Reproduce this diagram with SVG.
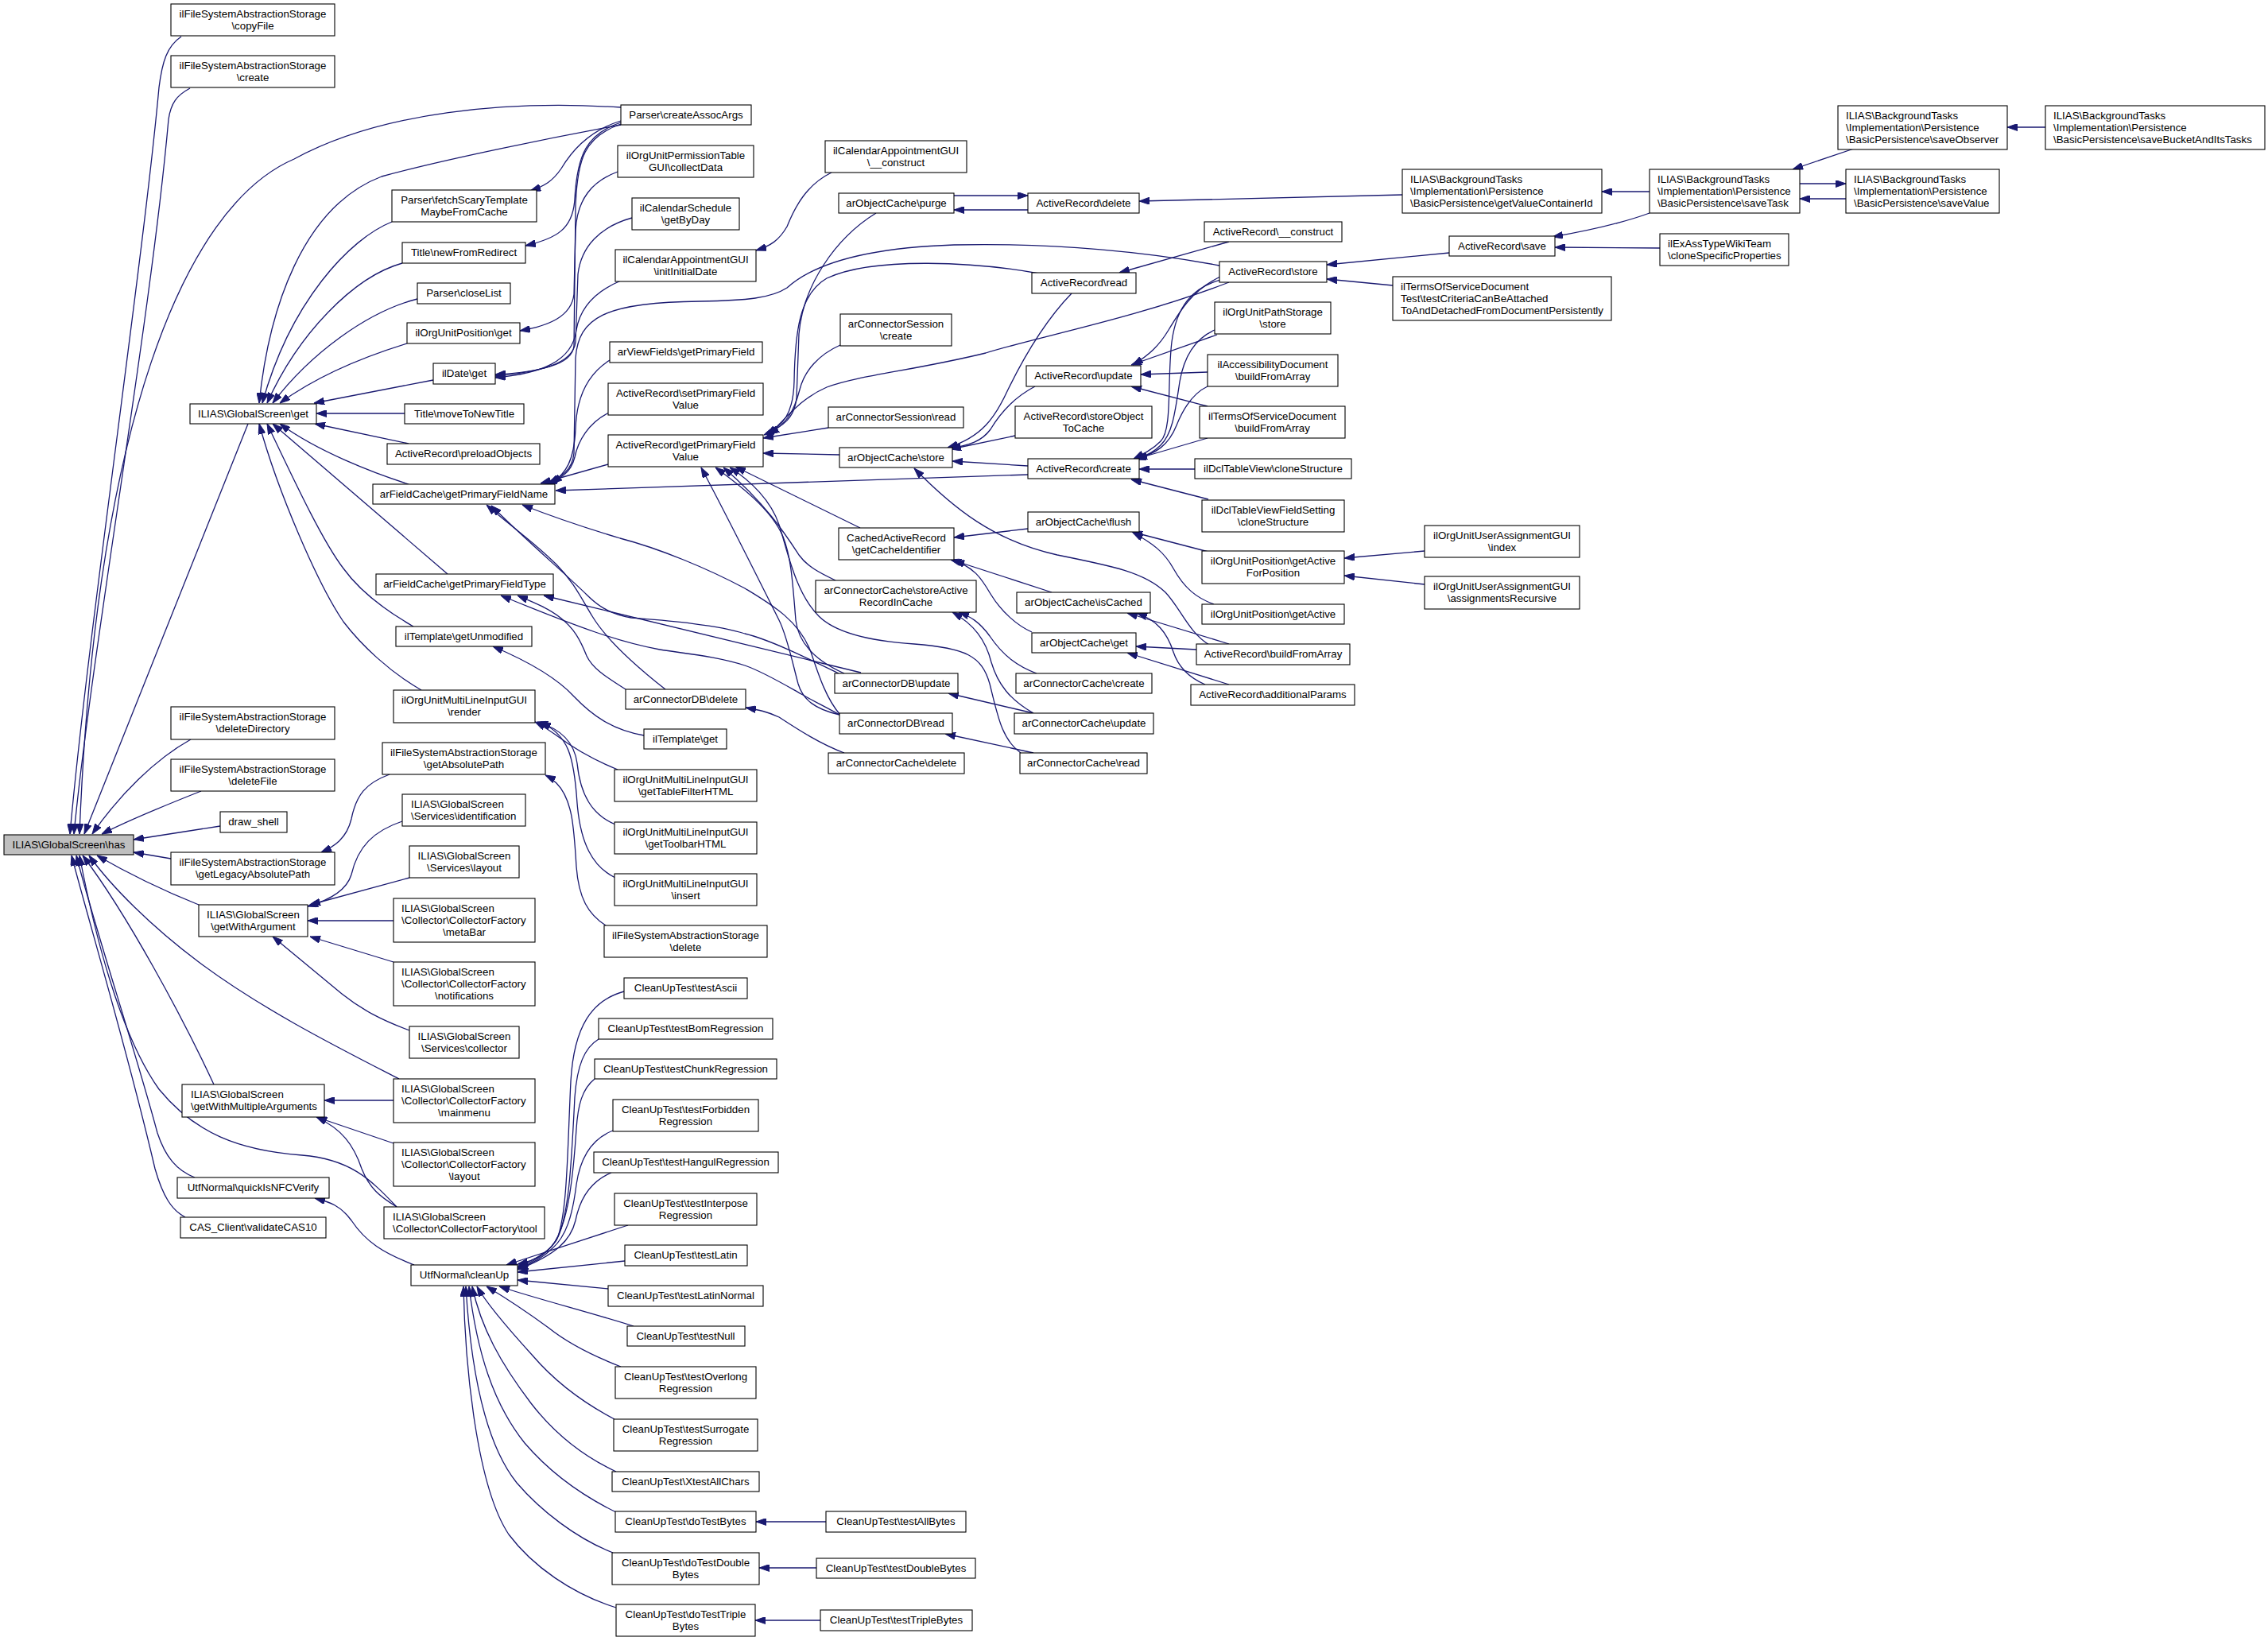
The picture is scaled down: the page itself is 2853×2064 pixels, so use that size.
<svg xmlns="http://www.w3.org/2000/svg" width="2853" height="2064" viewBox="0 0 2853 2064">
<style>
.node rect{fill:#ffffff;stroke:#000000;stroke-width:1.1}
.root rect{fill:#bfbfbf}
text{font-family:"Liberation Sans",Arial,Helvetica,sans-serif;font-size:13.3px;fill:#000000}
.c{text-anchor:middle}
.l{text-anchor:start}
#edges path{fill:none;stroke:#191970;stroke-width:1.3;marker-end:url(#ah)}
</style>
<defs>
<marker id="ah" viewBox="0 0 13 9" refX="13" refY="4.5" markerWidth="13" markerHeight="9" markerUnits="userSpaceOnUse" orient="auto">
<path d="M0,0 L13,4.5 L0,9 z" fill="#191970" stroke="#191970" stroke-width="1"/>
</marker>
</defs>
<rect x="0" y="0" width="2853" height="2064" fill="#ffffff"/>
<g id="edges">
<path d="M228,46 C210,58 204,78 200,110 C180,330 110,800 88,1049"/>
<path d="M239,111 C222,120 215,130 212,150 C190,400 115,820 93,1049"/>
<path d="M781,135 C640,126 480,140 370,200 C230,260 120,540 100,1049"/>
<path d="M312,533 L106,1049"/>
<path d="M240,930 C195,955 150,1000 116,1049"/>
<path d="M253,995 C210,1012 165,1030 128,1049"/>
<path d="M277,1039 L168,1056"/>
<path d="M215,1080 L168,1072"/>
<path d="M250,1138 C210,1122 160,1098 122,1076"/>
<path d="M502,1357 C430,1320 330,1270 250,1210 C190,1165 140,1115 112,1076"/>
<path d="M269,1364 C230,1280 160,1150 104,1076"/>
<path d="M245,1481 C222,1472 208,1455 198,1425 C170,1320 120,1170 96,1076"/>
<path d="M233,1531 C216,1522 205,1505 195,1470 C160,1320 112,1160 90,1076"/>
<path d="M499,1518 C465,1482 440,1458 380,1453 C300,1447 245,1425 200,1370 C150,1300 118,1170 100,1076"/>
<path d="M781,157 C700,172 560,200 480,222 C380,260 338,390 326,507"/>
<path d="M493,279 C440,300 365,380 330,507"/>
<path d="M506,331 C445,348 375,420 336,507"/>
<path d="M525,376 C462,392 390,445 343,507"/>
<path d="M512,432 C460,448 400,472 352,507"/>
<path d="M545,478 L395,507"/>
<path d="M509,520 L398,520"/>
<path d="M514,558 L396,533"/>
<path d="M514,609 C470,595 400,568 352,533"/>
<path d="M563,722 L343,533"/>
<path d="M520,788 C480,765 450,740 432,715 C405,680 368,600 336,533"/>
<path d="M530,868 C490,845 455,812 432,782 C400,735 350,620 326,533"/>
<path d="M781,152 C745,163 722,185 706,212 C695,228 685,234 667,240"/>
<path d="M781,154 C738,168 726,195 723,250 C721,288 700,300 661,309"/>
<path d="M781,156 C735,172 726,200 724,260 L722,435 C720,460 675,468 623,471"/>
<path d="M777,216 C745,228 726,250 724,290 L722,370 C719,398 690,410 654,416"/>
<path d="M795,274 C755,285 731,310 727,345 L724,430 C721,458 678,468 623,473"/>
<path d="M781,353 C750,366 730,385 725,415 C720,455 680,470 623,475"/>
<path d="M1046,217 C1015,232 1000,260 990,285 C980,302 970,309 951,315"/>
<path d="M767,453 C740,470 725,500 724,540 C722,580 712,595 694,608"/>
<path d="M766,519 C740,532 727,555 723,575 C718,595 705,602 688,609"/>
<path d="M765,584 L680,608"/>
<path d="M1534,334 C1450,318 1330,305 1200,308 C1080,312 1020,335 990,362 C970,375 940,378 880,379 C760,380 728,400 724,450 L722,570 C720,592 705,600 690,608"/>
<path d="M1293,597 L699,617"/>
<path d="M837,867 C790,830 760,800 745,775 C730,750 720,730 700,710 C670,680 640,660 612,635"/>
<path d="M1055,847 C1020,830 970,805 937,797 C900,785 830,780 794,777 C765,772 750,760 738,748 C715,725 660,678 618,636"/>
<path d="M1057,899 C1040,880 1030,850 1020,820 C1005,780 970,760 937,740 C890,715 830,690 780,677 C730,662 690,648 657,635"/>
<path d="M787,867 C760,850 745,840 738,825 C730,805 722,790 705,777 C690,765 670,757 651,749"/>
<path d="M1083,846 L684,749"/>
<path d="M1058,900 C1040,890 1020,880 1008,873 C985,860 960,845 937,837 C900,825 860,822 830,817 C780,808 730,790 630,749"/>
<path d="M1102,268 C1050,300 1010,360 1005,420 L1002,500 C1000,525 985,537 963,545"/>
<path d="M1307,344 C1230,330 1100,322 1040,350 C1005,370 1000,420 999,480 C998,520 985,537 961,547"/>
<path d="M1057,434 C1030,446 1012,466 1006,490 C999,517 990,533 967,546"/>
<path d="M1546,355 C1430,400 1300,425 1240,444 C1150,466 1080,472 1040,487 C1005,502 988,528 965,548"/>
<path d="M1042,538 L960,551"/>
<path d="M1056,572 L960,570"/>
<path d="M1082,664 L925,587"/>
<path d="M1051,730 C1030,720 1015,712 1005,698 C990,675 965,635 910,588"/>
<path d="M1062,847 C1035,835 1005,815 1001,780 C997,730 995,700 985,675 C970,640 930,610 900,588"/>
<path d="M1056,899 C1025,892 1010,880 1004,860 C996,830 990,800 980,780 C955,730 915,650 882,588"/>
<path d="M1284,947 C1260,930 1255,900 1245,860 C1235,825 1215,815 1150,810 C1090,806 1050,795 1030,775 C1000,745 990,690 980,660 C970,630 945,605 918,588"/>
<path d="M1348,369 C1318,400 1290,445 1268,490 C1252,525 1235,550 1192,563"/>
<path d="M1302,486 C1275,500 1258,520 1246,540 C1235,555 1220,560 1194,564"/>
<path d="M1277,548 L1196,565"/>
<path d="M1293,586 L1198,580"/>
<path d="M1521,811 C1495,795 1485,765 1466,745 C1440,720 1400,712 1330,698 C1250,680 1200,640 1150,589"/>
<path d="M1200,246 L1293,246"/>
<path d="M1293,264 L1200,264"/>
<path d="M1764,245 L1433,253"/>
<path d="M1546,304 L1408,343"/>
<path d="M1823,318 L1669,333"/>
<path d="M1752,359 L1669,351"/>
<path d="M2075,268 C2045,279 2010,288 1953,298"/>
<path d="M2088,312 L1956,311"/>
<path d="M2573,160 L2525,160"/>
<path d="M2332,187 L2255,213"/>
<path d="M2264,231 L2322,231"/>
<path d="M2322,250 L2264,250"/>
<path d="M2075,241 L2015,241"/>
<path d="M1535,348 C1500,365 1485,390 1470,415 C1458,435 1445,447 1425,459"/>
<path d="M1531,421 L1423,459"/>
<path d="M1519,468 L1435,471"/>
<path d="M1519,511 L1423,486"/>
<path d="M1535,352 C1500,362 1480,385 1474,430 C1468,480 1475,540 1460,555 C1450,565 1440,570 1426,577"/>
<path d="M1528,415 C1505,425 1490,445 1484,480 C1478,520 1475,545 1460,560 C1450,570 1440,574 1430,577"/>
<path d="M1519,486 C1500,495 1488,515 1480,535 C1470,560 1455,570 1428,578"/>
<path d="M1519,551 L1430,577"/>
<path d="M1503,590 L1433,590"/>
<path d="M1520,628 L1423,603"/>
<path d="M1293,665 L1200,676"/>
<path d="M1520,694 L1424,669"/>
<path d="M1527,760 C1505,752 1490,740 1476,715 C1465,695 1450,683 1425,670"/>
<path d="M1792,693 L1691,702"/>
<path d="M1792,735 L1691,724"/>
<path d="M1323,745 L1200,705"/>
<path d="M1298,795 C1280,787 1260,770 1246,747 C1235,728 1225,712 1196,704"/>
<path d="M1546,810 L1418,771"/>
<path d="M1516,861 C1495,852 1482,838 1476,820 C1468,795 1455,780 1430,771"/>
<path d="M1505,817 L1429,813"/>
<path d="M1546,861 L1418,821"/>
<path d="M1304,847 C1280,838 1262,825 1245,800 C1232,782 1220,775 1206,770"/>
<path d="M1300,897 C1270,880 1255,860 1247,833 C1240,805 1225,785 1198,770"/>
<path d="M1300,897 L1193,872"/>
<path d="M1300,947 L1189,923"/>
<path d="M1062,947 C1030,935 1000,915 980,902 C965,895 955,893 938,890"/>
<path d="M490,974 C460,985 448,1000 442,1030 C436,1055 420,1065 404,1072"/>
<path d="M762,1164 C740,1150 728,1130 725,1090 C722,1040 720,1005 700,985 C695,980 690,977 686,975"/>
<path d="M777,968 C745,955 720,940 700,925 C690,918 683,913 673,908"/>
<path d="M774,1037 C745,1025 730,1000 726,960 C722,930 700,915 676,908"/>
<path d="M774,1104 C745,1090 730,1060 726,1010 C722,950 715,925 680,908"/>
<path d="M810,925 C770,918 745,900 722,876 C700,852 660,830 620,813"/>
<path d="M506,1033 C470,1045 450,1065 442,1100 C436,1120 415,1132 387,1140"/>
<path d="M515,1104 L390,1138"/>
<path d="M495,1158 L387,1158"/>
<path d="M495,1210 L390,1178"/>
<path d="M515,1296 C480,1283 455,1270 430,1250 C400,1225 370,1200 343,1178"/>
<path d="M495,1384 L408,1384"/>
<path d="M495,1438 L398,1405"/>
<path d="M499,1518 C478,1505 465,1495 455,1470 C445,1440 430,1420 398,1405"/>
<path d="M521,1591 C482,1576 460,1562 442,1535 C428,1516 415,1512 396,1507"/>
<path d="M785,1247 C745,1258 722,1290 718,1360 C714,1440 714,1520 702,1555 C692,1576 672,1586 651,1590"/>
<path d="M753,1307 C735,1318 726,1340 723,1380 C719,1460 716,1530 700,1560 C690,1575 672,1585 651,1593"/>
<path d="M748,1357 C732,1370 727,1390 725,1420 C721,1480 715,1535 698,1562 C688,1578 670,1587 651,1595"/>
<path d="M771,1422 C745,1432 730,1455 725,1490 C720,1530 712,1555 695,1570 C683,1582 668,1590 651,1596"/>
<path d="M769,1475 C745,1485 730,1505 724,1535 C718,1560 700,1578 651,1597"/>
<path d="M790,1541 L637,1591"/>
<path d="M786,1586 L651,1600"/>
<path d="M765,1621 L651,1610"/>
<path d="M797,1668 C740,1650 680,1635 628,1618"/>
<path d="M781,1719 C745,1705 715,1690 690,1670 C660,1648 632,1630 612,1618"/>
<path d="M773,1785 C735,1765 700,1740 670,1705 C640,1672 612,1640 600,1618"/>
<path d="M775,1851 C730,1830 695,1800 668,1765 C630,1715 605,1670 594,1618"/>
<path d="M775,1902 C730,1880 690,1850 660,1815 C620,1765 600,1700 590,1618"/>
<path d="M771,1953 C725,1935 680,1900 650,1865 C610,1815 592,1720 586,1618"/>
<path d="M775,2022 C720,2005 670,1970 640,1930 C600,1870 585,1720 583,1618"/>
<path d="M1039,1914 L951,1914"/>
<path d="M1027,1972 L955,1972"/>
<path d="M1032,2038 L950,2038"/>
</g>
<g id="n_has" class="node root"><rect x="5" y="1050" width="163" height="25"/><text class="c" x="86.5" y="1067">ILIAS\GlobalScreen\has</text></g>
<g id="n_copyFile" class="node"><rect x="215" y="5" width="206" height="40"/><text class="c" x="318" y="22">ilFileSystemAbstractionStorage</text><text class="c" x="318" y="37">\copyFile</text></g>
<g id="n_create" class="node"><rect x="215" y="70" width="206" height="40"/><text class="c" x="318" y="87">ilFileSystemAbstractionStorage</text><text class="c" x="318" y="102">\create</text></g>
<g id="n_get" class="node"><rect x="239" y="508" width="159" height="25"/><text class="c" x="318.5" y="525">ILIAS\GlobalScreen\get</text></g>
<g id="n_deleteDirectory" class="node"><rect x="215" y="889" width="206" height="41"/><text class="c" x="318" y="906">ilFileSystemAbstractionStorage</text><text class="c" x="318" y="921">\deleteDirectory</text></g>
<g id="n_deleteFile" class="node"><rect x="215" y="955" width="206" height="40"/><text class="c" x="318" y="972">ilFileSystemAbstractionStorage</text><text class="c" x="318" y="987">\deleteFile</text></g>
<g id="n_draw_shell" class="node"><rect x="277" y="1021" width="84" height="26"/><text class="c" x="319" y="1038">draw_shell</text></g>
<g id="n_getLegacy" class="node"><rect x="215" y="1072" width="206" height="41"/><text class="c" x="318" y="1089">ilFileSystemAbstractionStorage</text><text class="c" x="318" y="1104">\getLegacyAbsolutePath</text></g>
<g id="n_getWithArgument" class="node"><rect x="250" y="1138" width="137" height="40"/><text class="c" x="318.5" y="1155">ILIAS\GlobalScreen</text><text class="c" x="318.5" y="1170">\getWithArgument</text></g>
<g id="n_gWMA" class="node"><rect x="229" y="1364" width="179" height="41"/><text class="l" x="240" y="1381">ILIAS\GlobalScreen</text><text class="l" x="240" y="1396">\getWithMultipleArguments</text></g>
<g id="n_quickIsNFC" class="node"><rect x="223" y="1481" width="191" height="26"/><text class="c" x="318.5" y="1498">UtfNormal\quickIsNFCVerify</text></g>
<g id="n_validateCAS10" class="node"><rect x="227" y="1531" width="183" height="26"/><text class="c" x="318.5" y="1548">CAS_Client\validateCAS10</text></g>
<g id="n_fetchScary" class="node"><rect x="493" y="239" width="182" height="40"/><text class="c" x="584" y="256">Parser\fetchScaryTemplate</text><text class="c" x="584" y="271">MaybeFromCache</text></g>
<g id="n_newFromRedirect" class="node"><rect x="506" y="305" width="155" height="26"/><text class="c" x="583.5" y="322">Title\newFromRedirect</text></g>
<g id="n_closeList" class="node"><rect x="525" y="356" width="117" height="26"/><text class="c" x="583.5" y="373">Parser\closeList</text></g>
<g id="n_orgPosGet" class="node"><rect x="512" y="406" width="142" height="26"/><text class="c" x="583" y="423">ilOrgUnitPosition\get</text></g>
<g id="n_ilDateGet" class="node"><rect x="545" y="457" width="78" height="26"/><text class="c" x="584" y="474">ilDate\get</text></g>
<g id="n_moveToNewTitle" class="node"><rect x="509" y="508" width="150" height="25"/><text class="c" x="584" y="525">Title\moveToNewTitle</text></g>
<g id="n_preloadObjects" class="node"><rect x="487" y="558" width="192" height="26"/><text class="c" x="583" y="575">ActiveRecord\preloadObjects</text></g>
<g id="n_getPFName" class="node"><rect x="469" y="609" width="229" height="25"/><text class="c" x="583.5" y="626">arFieldCache\getPrimaryFieldName</text></g>
<g id="n_getPFType" class="node"><rect x="473" y="722" width="223" height="26"/><text class="c" x="584.5" y="739">arFieldCache\getPrimaryFieldType</text></g>
<g id="n_getUnmodified" class="node"><rect x="498" y="788" width="171" height="25"/><text class="c" x="583.5" y="805">ilTemplate\getUnmodified</text></g>
<g id="n_render" class="node"><rect x="495" y="868" width="178" height="41"/><text class="c" x="584" y="885">ilOrgUnitMultiLineInputGUI</text><text class="c" x="584" y="900">\render</text></g>
<g id="n_getAbsolutePath" class="node"><rect x="481" y="934" width="205" height="40"/><text class="c" x="583.5" y="951">ilFileSystemAbstractionStorage</text><text class="c" x="583.5" y="966">\getAbsolutePath</text></g>
<g id="n_identification" class="node"><rect x="506" y="999" width="155" height="40"/><text class="l" x="517" y="1016">ILIAS\GlobalScreen</text><text class="l" x="517" y="1031">\Services\identification</text></g>
<g id="n_servLayout" class="node"><rect x="515" y="1064" width="138" height="40"/><text class="c" x="584" y="1081">ILIAS\GlobalScreen</text><text class="c" x="584" y="1096">\Services\layout</text></g>
<g id="n_metaBar" class="node"><rect x="495" y="1130" width="178" height="55"/><text class="l" x="505" y="1147">ILIAS\GlobalScreen</text><text class="l" x="505" y="1162">\Collector\CollectorFactory</text><text class="c" x="584" y="1177">\metaBar</text></g>
<g id="n_notifications" class="node"><rect x="495" y="1210" width="178" height="55"/><text class="l" x="505" y="1227">ILIAS\GlobalScreen</text><text class="l" x="505" y="1242">\Collector\CollectorFactory</text><text class="c" x="584" y="1257">\notifications</text></g>
<g id="n_collector" class="node"><rect x="515" y="1291" width="138" height="40"/><text class="c" x="584" y="1308">ILIAS\GlobalScreen</text><text class="c" x="584" y="1323">\Services\collector</text></g>
<g id="n_mainmenu" class="node"><rect x="495" y="1357" width="178" height="55"/><text class="l" x="505" y="1374">ILIAS\GlobalScreen</text><text class="l" x="505" y="1389">\Collector\CollectorFactory</text><text class="c" x="584" y="1404">\mainmenu</text></g>
<g id="n_cfLayout" class="node"><rect x="495" y="1437" width="178" height="55"/><text class="l" x="505" y="1454">ILIAS\GlobalScreen</text><text class="l" x="505" y="1469">\Collector\CollectorFactory</text><text class="c" x="584" y="1484">\layout</text></g>
<g id="n_tool" class="node"><rect x="483" y="1518" width="202" height="40"/><text class="l" x="494" y="1535">ILIAS\GlobalScreen</text><text class="l" x="494" y="1550">\Collector\CollectorFactory\tool</text></g>
<g id="n_cleanUp" class="node"><rect x="517" y="1591" width="134" height="26"/><text class="c" x="584" y="1608">UtfNormal\cleanUp</text></g>
<g id="n_createAssocArgs" class="node"><rect x="781" y="132" width="164" height="25"/><text class="c" x="863" y="149">Parser\createAssocArgs</text></g>
<g id="n_collectData" class="node"><rect x="777" y="183" width="171" height="40"/><text class="c" x="862.5" y="200">ilOrgUnitPermissionTable</text><text class="c" x="862.5" y="215">GUI\collectData</text></g>
<g id="n_getByDay" class="node"><rect x="795" y="249" width="135" height="40"/><text class="c" x="862.5" y="266">ilCalendarSchedule</text><text class="c" x="862.5" y="281">\getByDay</text></g>
<g id="n_initInitialDate" class="node"><rect x="774" y="314" width="177" height="40"/><text class="c" x="862.5" y="331">ilCalendarAppointmentGUI</text><text class="c" x="862.5" y="346">\initInitialDate</text></g>
<g id="n_arViewFields" class="node"><rect x="767" y="430" width="192" height="26"/><text class="c" x="863" y="447">arViewFields\getPrimaryField</text></g>
<g id="n_setPFV" class="node"><rect x="765" y="482" width="195" height="40"/><text class="c" x="862.5" y="499">ActiveRecord\setPrimaryField</text><text class="c" x="862.5" y="514">Value</text></g>
<g id="n_getPFV" class="node"><rect x="765" y="547" width="195" height="40"/><text class="c" x="862.5" y="564">ActiveRecord\getPrimaryField</text><text class="c" x="862.5" y="579">Value</text></g>
<g id="n_arConnDBdelete" class="node"><rect x="787" y="867" width="151" height="25"/><text class="c" x="862.5" y="884">arConnectorDB\delete</text></g>
<g id="n_ilTemplateGet" class="node"><rect x="810" y="917" width="104" height="25"/><text class="c" x="862" y="934">ilTemplate\get</text></g>
<g id="n_getTableFilterHTML" class="node"><rect x="773" y="968" width="179" height="40"/><text class="c" x="862.5" y="985">ilOrgUnitMultiLineInputGUI</text><text class="c" x="862.5" y="1000">\getTableFilterHTML</text></g>
<g id="n_getToolbarHTML" class="node"><rect x="773" y="1034" width="179" height="40"/><text class="c" x="862.5" y="1051">ilOrgUnitMultiLineInputGUI</text><text class="c" x="862.5" y="1066">\getToolbarHTML</text></g>
<g id="n_insert" class="node"><rect x="773" y="1099" width="179" height="40"/><text class="c" x="862.5" y="1116">ilOrgUnitMultiLineInputGUI</text><text class="c" x="862.5" y="1131">\insert</text></g>
<g id="n_fsDelete" class="node"><rect x="760" y="1164" width="205" height="40"/><text class="c" x="862.5" y="1181">ilFileSystemAbstractionStorage</text><text class="c" x="862.5" y="1196">\delete</text></g>
<g id="n_testAscii" class="node"><rect x="785" y="1230" width="155" height="26"/><text class="c" x="862.5" y="1247">CleanUpTest\testAscii</text></g>
<g id="n_testBom" class="node"><rect x="753" y="1281" width="219" height="26"/><text class="c" x="862.5" y="1298">CleanUpTest\testBomRegression</text></g>
<g id="n_testChunk" class="node"><rect x="748" y="1332" width="229" height="25"/><text class="c" x="862.5" y="1349">CleanUpTest\testChunkRegression</text></g>
<g id="n_testForbidden" class="node"><rect x="771" y="1383" width="183" height="40"/><text class="c" x="862.5" y="1400">CleanUpTest\testForbidden</text><text class="c" x="862.5" y="1415">Regression</text></g>
<g id="n_testHangul" class="node"><rect x="747" y="1449" width="232" height="26"/><text class="c" x="862.5" y="1466">CleanUpTest\testHangulRegression</text></g>
<g id="n_testInterpose" class="node"><rect x="773" y="1501" width="179" height="40"/><text class="c" x="862.5" y="1518">CleanUpTest\testInterpose</text><text class="c" x="862.5" y="1533">Regression</text></g>
<g id="n_testLatin" class="node"><rect x="786" y="1566" width="154" height="26"/><text class="c" x="862.5" y="1583">CleanUpTest\testLatin</text></g>
<g id="n_testLatinNormal" class="node"><rect x="765" y="1617" width="195" height="26"/><text class="c" x="862.5" y="1634">CleanUpTest\testLatinNormal</text></g>
<g id="n_testNull" class="node"><rect x="789" y="1668" width="148" height="25"/><text class="c" x="862.5" y="1685">CleanUpTest\testNull</text></g>
<g id="n_testOverlong" class="node"><rect x="774" y="1719" width="177" height="40"/><text class="c" x="862.5" y="1736">CleanUpTest\testOverlong</text><text class="c" x="862.5" y="1751">Regression</text></g>
<g id="n_testSurrogate" class="node"><rect x="772" y="1785" width="181" height="40"/><text class="c" x="862.5" y="1802">CleanUpTest\testSurrogate</text><text class="c" x="862.5" y="1817">Regression</text></g>
<g id="n_XtestAllChars" class="node"><rect x="770" y="1851" width="185" height="25"/><text class="c" x="862.5" y="1868">CleanUpTest\XtestAllChars</text></g>
<g id="n_doTestBytes" class="node"><rect x="774" y="1901" width="177" height="26"/><text class="c" x="862.5" y="1918">CleanUpTest\doTestBytes</text></g>
<g id="n_doTestDouble" class="node"><rect x="770" y="1953" width="185" height="40"/><text class="c" x="862.5" y="1970">CleanUpTest\doTestDouble</text><text class="c" x="862.5" y="1985">Bytes</text></g>
<g id="n_doTestTriple" class="node"><rect x="775" y="2018" width="175" height="40"/><text class="c" x="862.5" y="2035">CleanUpTest\doTestTriple</text><text class="c" x="862.5" y="2050">Bytes</text></g>
<g id="n_calConstruct" class="node"><rect x="1038" y="177" width="178" height="40"/><text class="c" x="1127" y="194">ilCalendarAppointmentGUI</text><text class="c" x="1127" y="209">\__construct</text></g>
<g id="n_purge" class="node"><rect x="1055" y="243" width="145" height="25"/><text class="c" x="1127.5" y="260">arObjectCache\purge</text></g>
<g id="n_sessCreate" class="node"><rect x="1057" y="395" width="140" height="40"/><text class="c" x="1127" y="412">arConnectorSession</text><text class="c" x="1127" y="427">\create</text></g>
<g id="n_sessRead" class="node"><rect x="1042" y="512" width="170" height="26"/><text class="c" x="1127" y="529">arConnectorSession\read</text></g>
<g id="n_objStore" class="node"><rect x="1056" y="563" width="142" height="25"/><text class="c" x="1127" y="580">arObjectCache\store</text></g>
<g id="n_cachedAR" class="node"><rect x="1055" y="664" width="145" height="40"/><text class="c" x="1127.5" y="681">CachedActiveRecord</text><text class="c" x="1127.5" y="696">\getCacheIdentifier</text></g>
<g id="n_storeARInCache" class="node"><rect x="1026" y="730" width="202" height="40"/><text class="c" x="1127" y="747">arConnectorCache\storeActive</text><text class="c" x="1127" y="762">RecordInCache</text></g>
<g id="n_dbUpdate" class="node"><rect x="1050" y="847" width="155" height="25"/><text class="c" x="1127.5" y="864">arConnectorDB\update</text></g>
<g id="n_dbRead" class="node"><rect x="1056" y="897" width="142" height="26"/><text class="c" x="1127" y="914">arConnectorDB\read</text></g>
<g id="n_ccDelete" class="node"><rect x="1042" y="947" width="171" height="26"/><text class="c" x="1127.5" y="964">arConnectorCache\delete</text></g>
<g id="n_testAllBytes" class="node"><rect x="1039" y="1901" width="176" height="26"/><text class="c" x="1127" y="1918">CleanUpTest\testAllBytes</text></g>
<g id="n_testDoubleBytes" class="node"><rect x="1027" y="1960" width="200" height="25"/><text class="c" x="1127" y="1977">CleanUpTest\testDoubleBytes</text></g>
<g id="n_testTripleBytes" class="node"><rect x="1032" y="2025" width="191" height="26"/><text class="c" x="1127.5" y="2042">CleanUpTest\testTripleBytes</text></g>
<g id="n_arDelete" class="node"><rect x="1293" y="243" width="140" height="25"/><text class="c" x="1363" y="260">ActiveRecord\delete</text></g>
<g id="n_arRead" class="node"><rect x="1298" y="343" width="131" height="26"/><text class="c" x="1363.5" y="360">ActiveRecord\read</text></g>
<g id="n_arUpdate" class="node"><rect x="1291" y="460" width="144" height="26"/><text class="c" x="1363" y="477">ActiveRecord\update</text></g>
<g id="n_storeObjToCache" class="node"><rect x="1277" y="511" width="172" height="40"/><text class="c" x="1363" y="528">ActiveRecord\storeObject</text><text class="c" x="1363" y="543">ToCache</text></g>
<g id="n_arCreate" class="node"><rect x="1293" y="577" width="140" height="25"/><text class="c" x="1363" y="594">ActiveRecord\create</text></g>
<g id="n_flush" class="node"><rect x="1293" y="644" width="140" height="25"/><text class="c" x="1363" y="661">arObjectCache\flush</text></g>
<g id="n_isCached" class="node"><rect x="1279" y="745" width="168" height="26"/><text class="c" x="1363" y="762">arObjectCache\isCached</text></g>
<g id="n_objGet" class="node"><rect x="1298" y="796" width="131" height="25"/><text class="c" x="1363.5" y="813">arObjectCache\get</text></g>
<g id="n_ccCreate" class="node"><rect x="1278" y="847" width="171" height="25"/><text class="c" x="1363.5" y="864">arConnectorCache\create</text></g>
<g id="n_ccUpdate" class="node"><rect x="1276" y="897" width="175" height="26"/><text class="c" x="1363.5" y="914">arConnectorCache\update</text></g>
<g id="n_ccRead" class="node"><rect x="1283" y="947" width="160" height="26"/><text class="c" x="1363" y="964">arConnectorCache\read</text></g>
<g id="n_arConstruct" class="node"><rect x="1515" y="279" width="173" height="25"/><text class="c" x="1601.5" y="296">ActiveRecord\__construct</text></g>
<g id="n_arStore" class="node"><rect x="1534" y="329" width="135" height="26"/><text class="c" x="1601.5" y="346">ActiveRecord\store</text></g>
<g id="n_pathStorage" class="node"><rect x="1528" y="380" width="146" height="40"/><text class="c" x="1601" y="397">ilOrgUnitPathStorage</text><text class="c" x="1601" y="412">\store</text></g>
<g id="n_accDoc" class="node"><rect x="1519" y="446" width="164" height="40"/><text class="c" x="1601" y="463">ilAccessibilityDocument</text><text class="c" x="1601" y="478">\buildFromArray</text></g>
<g id="n_tosDoc" class="node"><rect x="1509" y="511" width="183" height="40"/><text class="c" x="1600.5" y="528">ilTermsOfServiceDocument</text><text class="c" x="1600.5" y="543">\buildFromArray</text></g>
<g id="n_dclView" class="node"><rect x="1503" y="577" width="197" height="25"/><text class="c" x="1601.5" y="594">ilDclTableView\cloneStructure</text></g>
<g id="n_dclField" class="node"><rect x="1512" y="629" width="179" height="40"/><text class="c" x="1601.5" y="646">ilDclTableViewFieldSetting</text><text class="c" x="1601.5" y="661">\cloneStructure</text></g>
<g id="n_getActiveFor" class="node"><rect x="1512" y="693" width="179" height="41"/><text class="c" x="1601.5" y="710">ilOrgUnitPosition\getActive</text><text class="c" x="1601.5" y="725">ForPosition</text></g>
<g id="n_getActive" class="node"><rect x="1512" y="760" width="179" height="25"/><text class="c" x="1601.5" y="777">ilOrgUnitPosition\getActive</text></g>
<g id="n_buildFromArray" class="node"><rect x="1505" y="810" width="193" height="26"/><text class="c" x="1601.5" y="827">ActiveRecord\buildFromArray</text></g>
<g id="n_additionalParams" class="node"><rect x="1498" y="861" width="206" height="26"/><text class="c" x="1601" y="878">ActiveRecord\additionalParams</text></g>
<g id="n_valueContainer" class="node"><rect x="1764" y="213" width="251" height="55"/><text class="l" x="1774" y="230">ILIAS\BackgroundTasks</text><text class="l" x="1774" y="245">\Implementation\Persistence</text><text class="l" x="1774" y="260">\BasicPersistence\getValueContainerId</text></g>
<g id="n_arSave" class="node"><rect x="1823" y="297" width="133" height="25"/><text class="c" x="1889.5" y="314">ActiveRecord\save</text></g>
<g id="n_tosTest" class="node"><rect x="1752" y="348" width="275" height="55"/><text class="l" x="1762" y="365">ilTermsOfServiceDocument</text><text class="l" x="1762" y="380">Test\testCriteriaCanBeAttached</text><text class="l" x="1762" y="395">ToAndDetachedFromDocumentPersistently</text></g>
<g id="n_index" class="node"><rect x="1792" y="661" width="195" height="40"/><text class="c" x="1889.5" y="678">ilOrgUnitUserAssignmentGUI</text><text class="c" x="1889.5" y="693">\index</text></g>
<g id="n_assignRec" class="node"><rect x="1792" y="725" width="195" height="41"/><text class="c" x="1889.5" y="742">ilOrgUnitUserAssignmentGUI</text><text class="c" x="1889.5" y="757">\assignmentsRecursive</text></g>
<g id="n_saveTask" class="node"><rect x="2075" y="213" width="189" height="55"/><text class="l" x="2085" y="230">ILIAS\BackgroundTasks</text><text class="l" x="2085" y="245">\Implementation\Persistence</text><text class="l" x="2085" y="260">\BasicPersistence\saveTask</text></g>
<g id="n_wikiTeam" class="node"><rect x="2088" y="294" width="162" height="40"/><text class="l" x="2098" y="311">ilExAssTypeWikiTeam</text><text class="l" x="2098" y="326">\cloneSpecificProperties</text></g>
<g id="n_saveObserver" class="node"><rect x="2312" y="133" width="213" height="55"/><text class="l" x="2322" y="150">ILIAS\BackgroundTasks</text><text class="l" x="2322" y="165">\Implementation\Persistence</text><text class="l" x="2322" y="180">\BasicPersistence\saveObserver</text></g>
<g id="n_saveValue" class="node"><rect x="2322" y="213" width="193" height="55"/><text class="l" x="2332" y="230">ILIAS\BackgroundTasks</text><text class="l" x="2332" y="245">\Implementation\Persistence</text><text class="l" x="2332" y="260">\BasicPersistence\saveValue</text></g>
<g id="n_saveBucket" class="node"><rect x="2573" y="133" width="276" height="55"/><text class="l" x="2583" y="150">ILIAS\BackgroundTasks</text><text class="l" x="2583" y="165">\Implementation\Persistence</text><text class="l" x="2583" y="180">\BasicPersistence\saveBucketAndItsTasks</text></g>
</svg>
